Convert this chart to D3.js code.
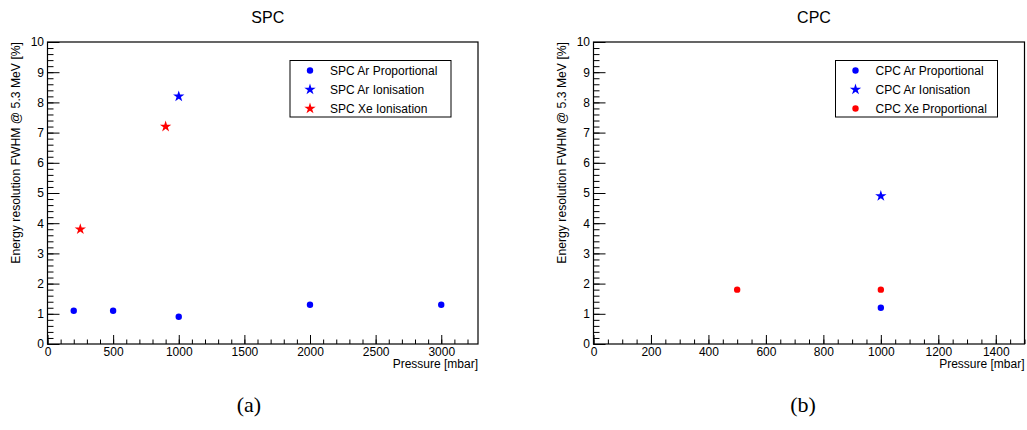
<!DOCTYPE html>
<html>
<head>
<meta charset="utf-8">
<script src="https://cdn.jsdelivr.net/npm/d3@7"></script>
<style>
  body { margin: 0; background: #fff; }
  svg text { font-family: "Liberation Sans", Arial, sans-serif; fill: #000; }
</style>
</head>
<body>
<svg id="chart" width="1027" height="430"></svg>
<script>
// --- data ---
// SPC panel
const spcArPropPressure = [200, 500, 1000, 2000, 3000];
const spcArPropRes      = [1.1, 1.1, 0.9, 1.3, 1.3];
const spcArIonPressure  = [1000];
const spcArIonRes       = [8.2];
const spcXeIonPressure  = [250, 900];
const spcXeIonRes       = [3.8, 7.2];

// CPC panel
const cpcArPropPressure = [1000];
const cpcArPropRes      = [1.2];
const cpcArIonPressure  = [1000];
const cpcArIonRes       = [4.9];
const cpcXePropPressure = [500, 1000];
const cpcXePropRes      = [1.8, 1.8];

const spcXTicks = [0, 500, 1000, 1500, 2000, 2500, 3000];
const cpcXTicks = [0, 200, 400, 600, 800, 1000, 1200, 1400];
const yTicks = [0, 1, 2, 3, 4, 5, 6, 7, 8, 9, 10];

const zip = (xs, ys) => xs.map((x, i) => ({x: x, y: ys[i]}));

const panels = [
  {
    title: "SPC", caption: "(a)",
    left: 47.5, right: 478, xMax: 3280, xTicks: spcXTicks, xMinorStep: 100,
    legend: {x: 290, w: 161},
    series: [
      {name: "SPC Ar Proportional", color: "#0000ff", shape: "circle", pts: zip(spcArPropPressure, spcArPropRes)},
      {name: "SPC Ar Ionisation", color: "#0000ff", shape: "star", pts: zip(spcArIonPressure, spcArIonRes)},
      {name: "SPC Xe Ionisation", color: "#ff0000", shape: "star", pts: zip(spcXeIonPressure, spcXeIonRes)}
    ]
  },
  {
    title: "CPC", caption: "(b)",
    left: 593.5, right: 1024.5, xMax: 1500, xTicks: cpcXTicks, xMinorStep: 50,
    legend: {x: 835.5, w: 162},
    series: [
      {name: "CPC Ar Proportional", color: "#0000ff", shape: "circle", pts: zip(cpcArPropPressure, cpcArPropRes)},
      {name: "CPC Ar Ionisation", color: "#0000ff", shape: "star", pts: zip(cpcArIonPressure, cpcArIonRes)},
      {name: "CPC Xe Proportional", color: "#ff0000", shape: "circle", pts: zip(cpcXePropPressure, cpcXePropRes)}
    ]
  }
];

const frameTop = 42, frameBottom = 344;
const svg = d3.select("#chart");

const starPath = d3.symbol().type(d3.symbolStar).size(40)();

function drawMarker(g, shape, color) {
  if (shape === "circle") {
    g.append("circle").attr("r", 3.2).attr("fill", color);
  } else {
    g.append("path").attr("d", starPath).attr("fill", color);
  }
}

panels.forEach(p => {
  const x = d3.scaleLinear().domain([0, p.xMax]).range([p.left, p.right]);
  const y = d3.scaleLinear().domain([0, 10]).range([frameBottom, frameTop]);
  const g = svg.append("g");

  // title
  g.append("text")
    .attr("x", (p.left + p.right) / 2 + 5).attr("y", 23)
    .attr("text-anchor", "middle").style("font-size", "16px")
    .text(p.title);

  // minor ticks
  const xMinor = d3.range(0, p.xMax + 1e-6, p.xMinorStep);
  g.append("g").attr("transform", `translate(0,${frameBottom})`)
    .call(d3.axisBottom(x).tickValues(xMinor).tickSize(-4.5).tickFormat(""))
    .call(a => a.select(".domain").remove());
  g.append("g").attr("transform", `translate(${p.left},0)`)
    .call(d3.axisLeft(y).tickValues(d3.range(0, 10.001, 0.2)).tickSize(-6).tickFormat(""))
    .call(a => a.select(".domain").remove());

  // major ticks + labels
  const xa = g.append("g").attr("transform", `translate(0,${frameBottom})`)
    .call(d3.axisBottom(x).tickValues(p.xTicks).tickSize(-9).tickPadding(3).tickFormat(d3.format("d")))
    .call(a => a.select(".domain").remove());
  xa.selectAll("text").style("font-size", "12px").attr("font-family", null);

  const ya = g.append("g").attr("transform", `translate(${p.left},0)`)
    .call(d3.axisLeft(y).tickValues(yTicks).tickSize(-12).tickPadding(3.5).tickFormat(d3.format("d")))
    .call(a => a.select(".domain").remove());
  ya.selectAll("text").style("font-size", "12px").attr("font-family", null);

  g.selectAll(".tick line").attr("stroke", "#000");

  // frame
  g.append("rect")
    .attr("x", p.left).attr("y", frameTop)
    .attr("width", p.right - p.left).attr("height", frameBottom - frameTop)
    .attr("fill", "none").attr("stroke", "#000").attr("stroke-width", 1.2);

  // axis titles
  g.append("text")
    .attr("x", p.right).attr("y", 368)
    .attr("text-anchor", "end").style("font-size", "12px")
    .text("Pressure [mbar]");
  g.append("text")
    .attr("transform", `translate(${p.left - 28},${frameTop}) rotate(-90)`)
    .attr("text-anchor", "end").style("font-size", "12.2px")
    .text("Energy resolution FWHM @ 5.3 MeV [%]");

  // points
  p.series.forEach(s => {
    s.pts.forEach(d => {
      const m = g.append("g").attr("transform", `translate(${x(d.x)},${y(d.y)})`);
      drawMarker(m, s.shape, s.color);
    });
  });

  // legend
  const lg = g.append("g").attr("transform", `translate(${p.legend.x},60.5)`);
  lg.append("rect").attr("width", p.legend.w).attr("height", 56.5)
    .attr("fill", "#fff").attr("stroke", "#000").attr("stroke-width", 1);
  p.series.forEach((s, i) => {
    const row = lg.append("g").attr("transform", `translate(0,${10 + i * 19})`);
    drawMarker(row.append("g").attr("transform", "translate(20,0)"), s.shape, s.color);
    row.append("text").attr("x", 40).attr("y", 4.3)
      .style("font-size", "12px").text(s.name);
  });

  // caption
  g.append("text")
    .attr("x", p.caption === "(a)" ? 249 : 803).attr("y", 412)
    .attr("text-anchor", "middle")
    .style("font-family", "'Liberation Serif', 'Times New Roman', serif")
    .style("font-size", "22px")
    .text(p.caption);
});
</script>
</body>
</html>
